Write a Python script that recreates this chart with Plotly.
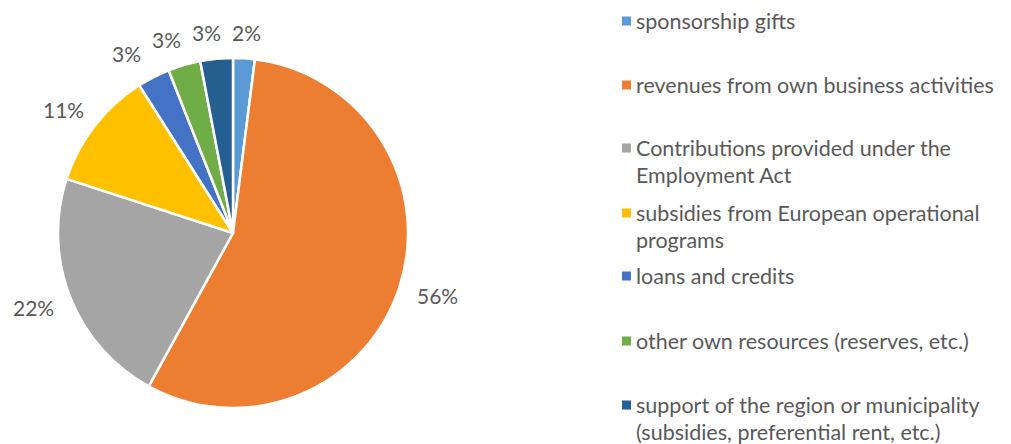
import math
import plotly.graph_objects as go

categories = [
    "sponsorship gifts",
    "revenues from own business activities",
    "Contributions provided under the Employment Act",
    "subsidies from European operational programs",
    "loans and credits",
    "other own resources (reserves, etc.)",
    "support of the region or municipality (subsidies, preferential rent, etc.)",
]
legend_lines = [
    ["sponsorship gifts"],
    ["revenues from own business activities"],
    ["Contributions provided under the", "Employment Act"],
    ["subsidies from European operational", "programs"],
    ["loans and credits"],
    ["other own resources (reserves, etc.)"],
    ["support of the region or municipality", "(subsidies, preferential rent, etc.)"],
]
values = [2, 56, 22, 11, 3, 3, 3]
colors = ["#5B9BD5", "#ED7D31", "#A5A5A5", "#FFC000", "#4472C4", "#70AD47", "#255E91"]

OFF = 8  # default page body margin
W, H = 1011 - OFF, 444 - OFF
FONT = "Lato"
TXT = "#595959"
LBL_SIZE = 21
LEG_SIZE = 21.5


def px(x):
    return (x - OFF) / W


def py(y):
    return (H - (y - OFF)) / H


cx, cy, r = 233, 233, 175

fig = go.Figure(go.Pie(
    labels=categories,
    values=values,
    sort=False,
    direction="clockwise",
    rotation=0,
    marker=dict(colors=colors, line=dict(color="white", width=2.5)),
    textinfo="none",
    showlegend=False,
    automargin=False,
    hoverinfo="label+percent",
    domain=dict(x=[px(cx - r), px(cx + r)], y=[py(cy + r), py(cy - r)]),
))

annotations = []
shapes = []

# data labels placed outside each slice at its mid-angle (derived from the values)
total = sum(values)
cum = 0
gap = 20
labels = []
for v in values:
    mid = (cum + v / 2) / total * 2 * math.pi
    cum += v
    s, c = math.sin(mid), math.cos(mid)
    txt = f"{round(100 * v / total)}%"
    w = 0.62 * LBL_SIZE * len(txt)
    h = 0.6 * LBL_SIZE
    lx = cx + (r + gap) * s + (w / 2) * s
    ly = cy - (r + gap) * c - (h / 2) * c
    labels.append([txt, lx, ly])

# spread crowded labels near the top (counter-clockwise from the first label)
min_sep = 40
order = [0] + list(range(len(labels) - 1, 0, -1))
for a, b in zip(order, order[1:]):
    la, lb = labels[a], labels[b]
    if la[2] < cy and lb[2] < cy and abs(la[2] - lb[2]) < LBL_SIZE \
            and la[1] - lb[1] < min_sep:
        lb[1] = la[1] - min_sep

for txt, lx, ly in labels:
    annotations.append(dict(text=txt, xref="paper", yref="paper",
                            x=px(lx), y=py(ly), xanchor="center", yanchor="middle",
                            showarrow=False,
                            font=dict(family=FONT, size=LBL_SIZE, color=TXT)))

# legend (manual, to match the spaced layout)
legend_y = [21, 85, 148, 213, 276, 341, 405]
line_h = 27
sq = 9
x_sq = 622
x_txt = 634
for lines, col, y0 in zip(legend_lines, colors, legend_y):
    shapes.append(dict(type="rect", xref="paper", yref="paper",
                       x0=px(x_sq), x1=px(x_sq + sq),
                       y0=py(y0 + sq / 2), y1=py(y0 - sq / 2),
                       fillcolor=col, line=dict(width=0)))
    for i, ln in enumerate(lines):
        yy = y0 + i * line_h
        annotations.append(dict(text=ln, xref="paper", yref="paper",
                                x=px(x_txt), y=py(yy),
                                xanchor="left", yanchor="middle", showarrow=False,
                                font=dict(family=FONT, size=LEG_SIZE, color=TXT)))

fig.update_layout(
    width=W, height=H,
    margin=dict(l=0, r=0, t=0, b=0),
    paper_bgcolor="white",
    plot_bgcolor="white",
    shapes=shapes,
    annotations=annotations,
    font=dict(family=FONT, color=TXT),
)

fig.write_html("out.html")
